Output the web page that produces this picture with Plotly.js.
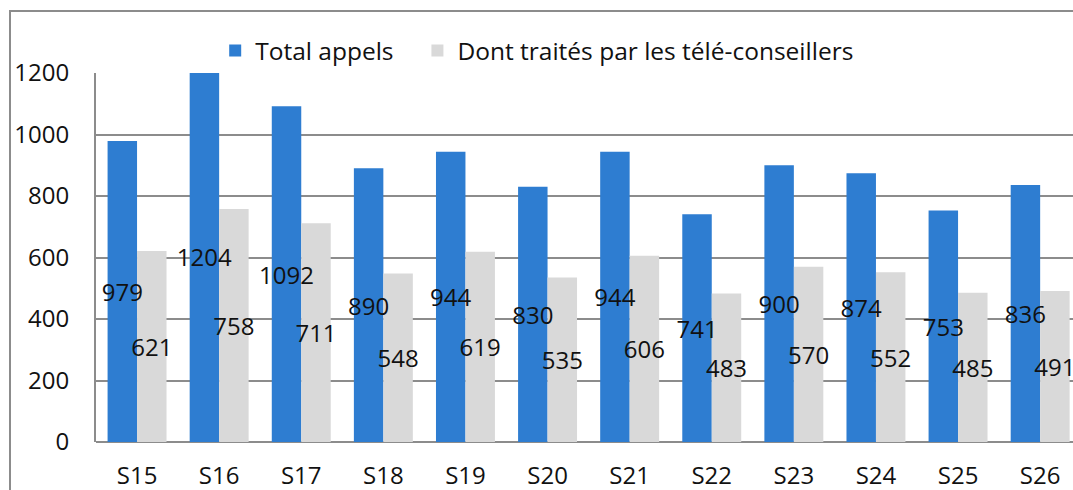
<!DOCTYPE html>
<html>
<head>
<meta charset="utf-8">
<script src="https://cdn.plot.ly/plotly-3.0.1.min.js"></script>
<style>
html,body{margin:0;padding:0;overflow:hidden;background:#fff;}
#wrap{position:relative;width:1073px;height:490px;overflow:hidden;}
#chart{position:absolute;left:0;top:0;width:1073px;height:490px;}
#frame{position:absolute;left:9px;top:10px;width:1200px;height:700px;border:2px solid #8c8c8c;pointer-events:none;}
</style>
</head>
<body>
<div id="wrap"><div id="chart"></div><div id="frame"></div></div>
<script>
const weeks = ["S15","S16","S17","S18","S19","S20","S21","S22","S23","S24","S25","S26"];
const totalAppels = [979,1204,1092,890,944,830,944,741,900,874,753,836];
const traites = [621,758,711,548,619,535,606,483,570,552,485,491];
const seriesNames = ["Total appels","Dont traités par les télé-conseillers"];
const yTicks = [0,200,400,600,800,1000,1200];

const font = "'Open Sans', Roboto, 'Liberation Sans', Arial, sans-serif";
const BW = 0.359;
const base = {type:"bar", hoverinfo:"skip", width:BW};
const labelStyle = {
  textposition:"inside",
  insidetextanchor:"middle",
  constraintext:"none",
  textangle:0,
  textfont:{family:font,size:24,color:"#111"}
};
const data = [
  Object.assign({}, base, {x:weeks, y:totalAppels, name:seriesNames[0], offset:-BW, marker:{color:"#2E7DD1"}, legend:"legend"}),
  Object.assign({}, base, {x:weeks, y:traites, name:seriesNames[1], offset:0, marker:{color:"#D9D9D9"}, legend:"legend2"}),
  Object.assign({}, base, labelStyle, {x:weeks, y:totalAppels, text:totalAppels.map(String), offset:-BW, marker:{color:"rgba(0,0,0,0)"}, showlegend:false}),
  Object.assign({}, base, labelStyle, {x:weeks, y:traites, text:traites.map(String), offset:0, marker:{color:"rgba(0,0,0,0)"}, showlegend:false})
];
const legFont = {family:font,size:24.5,color:"#111"};
const layout = {
  width:1073, height:490,
  margin:{l:96,r:0,t:73,b:48},
  paper_bgcolor:"rgba(0,0,0,0)",
  plot_bgcolor:"#fff",
  barmode:"overlay",
  font:{family:font,size:24,color:"#111"},
  showlegend:true,
  legend:{orientation:"h",x:0.122,xanchor:"left",y:1.0,yanchor:"bottom",font:legFont,bgcolor:"rgba(0,0,0,0)"},
  legend2:{orientation:"h",x:0.329,xanchor:"left",y:1.0,yanchor:"bottom",font:legFont,bgcolor:"rgba(0,0,0,0)"},
  xaxis:{type:"category",range:[-0.5,11.4],showgrid:false,showline:false,zeroline:false,ticks:"",ticklabelstandoff:17,tickfont:{family:font,size:24,color:"#111"}},
  yaxis:{range:[0,1200],tickvals:yTicks,ticktext:yTicks.map(String),showgrid:true,gridcolor:"#8c8c8c",gridwidth:2,zeroline:true,zerolinecolor:"#8c8c8c",zerolinewidth:2,showline:true,linecolor:"#8c8c8c",linewidth:2,ticks:"",ticklabelstandoff:20,tickfont:{family:font,size:24,color:"#111"}}
};
Plotly.newPlot("chart", data, layout, {displayModeBar:false, staticPlot:true});
</script>
</body>
</html>
